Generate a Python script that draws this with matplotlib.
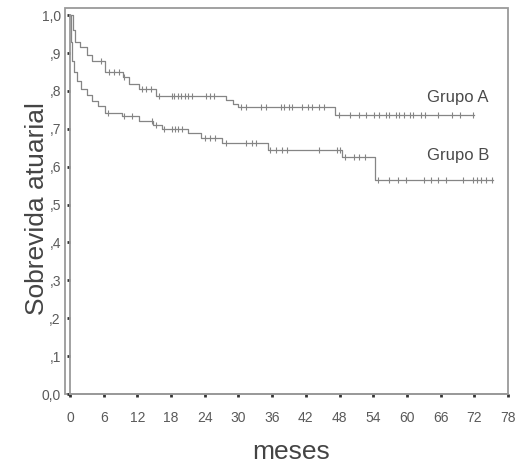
import numpy as np
import matplotlib
matplotlib.use('Agg')
import matplotlib.pyplot as plt
import matplotlib.patches as mpatches

# Kaplan-Meier style step curves (time in months, survival)
times_a = [0, 0.5, 0.9, 1.8, 3.0, 4.0, 6.3, 9.5, 10.6, 12.3, 15.3, 27.8, 29.0, 30.0, 47.2, 72.0]
surv_a = [1.0, 0.96, 0.93, 0.917, 0.896, 0.878, 0.85, 0.836, 0.818, 0.805, 0.788, 0.775, 0.765,
          0.758, 0.737, 0.737]
cens_a = [5.6, 7.0, 7.9, 8.8, 9.7, 12.8, 13.5, 14.4, 15.8, 18.1, 18.6, 19.2, 19.8, 20.4, 21.0,
          21.7, 24.3, 25.0, 25.6, 30.5, 31.3, 34.0, 34.9, 37.5, 38.2, 39.0, 39.5, 41.4, 42.3,
          43.1, 44.4, 45.2, 47.9, 49.8, 51.4, 52.8, 54.2, 55.1, 56.2, 56.9, 58.0, 58.6, 59.5,
          60.5, 61.0, 62.5, 63.3, 65.5, 68.0, 69.5, 71.7]

times_b = [0, 0.2, 0.4, 0.7, 1.2, 2.0, 3.0, 4.0, 5.0, 6.2, 9.3, 12.3, 14.8, 16.4, 21.0, 23.4,
           27.0, 35.2, 48.4, 54.3, 75.4]
surv_b = [1.0, 0.93, 0.88, 0.85, 0.826, 0.805, 0.79, 0.774, 0.76, 0.742, 0.735, 0.72, 0.71,
          0.70, 0.688, 0.675, 0.662, 0.645, 0.625, 0.566, 0.566]
cens_b = [6.7, 9.7, 11.1, 14.6, 15.3, 16.8, 18.1, 18.7, 19.3, 19.9, 24.0, 25.0, 25.9, 27.8,
          31.3, 32.5, 33.1, 35.7, 36.7, 37.8, 38.7, 44.4, 47.5, 48.0, 49.0, 50.5, 51.4, 52.5,
          54.9, 56.9, 58.5, 59.9, 63.0, 64.3, 65.5, 66.9, 69.9, 71.7, 72.5, 73.2, 74.0, 75.2]

groups = ['Grupo A', 'Grupo B']
xticks = list(range(0, 79, 6))
yticks = [0.0, 0.1, 0.2, 0.3, 0.4, 0.5, 0.6, 0.7, 0.8, 0.9, 1.0]
ylabels = ['0,0', ',1', ',2', ',3', ',4', ',5', ',6', ',7', ',8', ',9', '1,0']

plt.rcParams['font.family'] = ['Liberation Sans', 'DejaVu Sans']

fig = plt.figure(figsize=(5.19, 4.63), dpi=100)
ax = fig.add_axes([65/519, 69/463, 443/519, 386/463])
ax.set_xlim(-0.88, 77.1)
ax.set_ylim(0.0156, 1.019)

line_col = '#858585'


def surv_at(times, surv, t):
    idx = np.searchsorted(times, t, side='right') - 1
    return np.array(surv)[idx]


for times, surv, cens in [(times_a, surv_a, cens_a), (times_b, surv_b, cens_b)]:
    ax.step(times, surv, where='post', color=line_col, lw=0.9)
    ax.plot(cens, surv_at(times, surv, cens), ls='none', marker='|', ms=5,
            mew=0.8, color=line_col)

ax.text(63.6, 0.782, groups[0], fontsize=12, color='#4a4a4a', va='center')
ax.text(63.6, 0.629, groups[1], fontsize=12, color='#4a4a4a', va='center')

# outer box
box = mpatches.Rectangle((0, 0), 1, 1, transform=ax.transAxes, fill=False,
                         edgecolor='#9a9a9a', lw=1.3, clip_on=False)
ax.add_patch(box)

# SPSS style axis lines at x=0 / y=0
for s in ['top', 'right']:
    ax.spines[s].set_visible(False)
ax.spines['left'].set_position(('data', 0))
ax.spines['bottom'].set_position(('data', 0))
ax.spines['left'].set_bounds(0, 1.0)
ax.spines['bottom'].set_bounds(0, 78)
for s in ['left', 'bottom']:
    ax.spines[s].set_color('#9a9a9a')
    ax.spines[s].set_linewidth(1.3)

ax.set_xticks(xticks)
ax.set_xticklabels([str(v) for v in xticks])
ax.set_yticks(yticks)
ax.set_yticklabels(ylabels)
ax.tick_params(axis='both', direction='out', length=2.5, width=2, color='#333333',
               labelsize=10, labelcolor='#5a5a5a')
ax.tick_params(axis='x', pad=10)
ax.tick_params(axis='y', pad=4)

ax.set_xlabel('meses', fontsize=19, color='#444444')
ax.xaxis.set_label_coords(0.51, -0.12)
ax.set_ylabel('Sobrevida atuarial', fontsize=19, color='#444444')
ax.yaxis.set_label_coords(-0.035, 0.48)

fig.savefig('out.png', dpi=100)
